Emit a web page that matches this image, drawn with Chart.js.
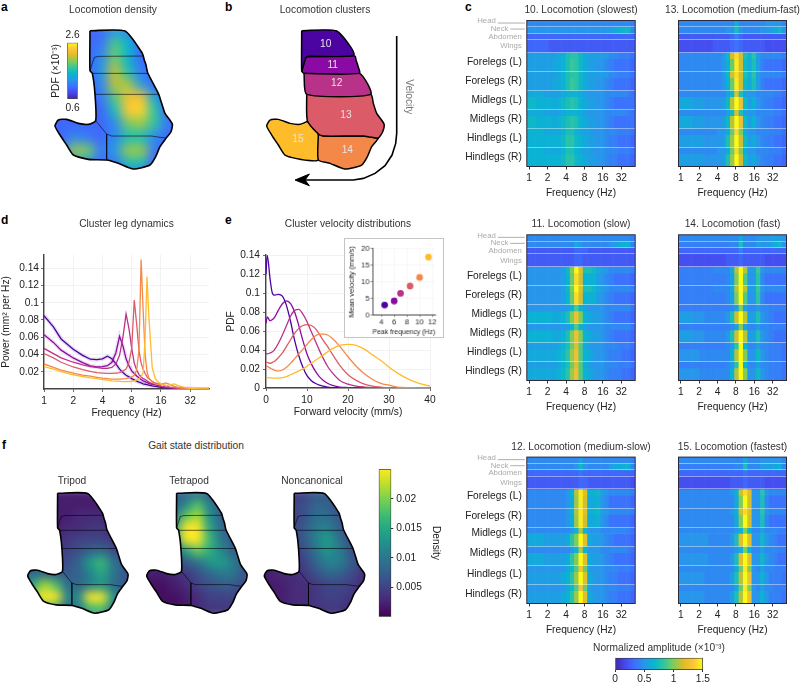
<!DOCTYPE html>
<html>

<head>
    <title>Locomotion figure</title>
    <script src="https://cdn.jsdelivr.net/npm/chart.js"></script>
    <style>
        body { margin: 0; background: #fff; width: 800px; height: 682px; overflow: hidden; position: relative; font-family: "Liberation Sans", Arial, sans-serif; }
        canvas { position: absolute; }
        .letter { position: absolute; font-weight: bold; font-size: 12px; color: #000; }
        .note { position: absolute; font-size: 10.2px; color: #333; white-space: nowrap; transform: translateX(-50%); }
    </style>
</head>

<body>
    <div class="letter" style="left:1px;top:0px">a</div>
    <div class="letter" style="left:225px;top:0px">b</div>
    <div class="letter" style="left:465px;top:0px">c</div>
    <div class="letter" style="left:1px;top:213px">d</div>
    <div class="letter" style="left:225px;top:213px">e</div>
    <div class="letter" style="left:2px;top:438px">f</div>
    <div class="note" style="left:196px;top:440px">Gait state distribution</div>

    <script>
        // ---------- data ----------
        const clusterIds = ["10", "11", "12", "13", "14", "15"];
        const clusterColors = ["#4b03a1", "#8b0aa5", "#b83289", "#db5c68", "#f48849", "#febc2b"];

        // panel d, power spectra
        const freqs = [1, 1.25, 1.5, 2, 2.5, 3, 3.5, 4, 4.5, 5, 5.5, 6, 6.5, 7, 7.5, 8, 8.5, 9, 9.5, 10, 10.5, 11, 11.5, 12, 13, 14, 15, 16, 18, 20, 22, 24, 28, 32, 40, 50];
        const freqTicks = [1, 2, 4, 8, 16, 32];
        const powerTicks = [0.02, 0.04, 0.06, 0.08, 0.1, 0.12, 0.14];
        const power10 = [.085, .072, .058, .046, .039, .0345, .034, .035, .038, .035, .029, .023, .019, .016, .014, .012, .0105, .009, .008, .007, .006, .0055, .005, .0045, .0035, .003, .0025, .002, .0015, .001, .0008, .0006, .0004, .0003, .0001, 0];
        const power11 = [.063, .054, .045, .036, .0305, .0267, .0255, .026, .027, .031, .042, .061, .05, .035, .027, .021, .018, .015, .013, .011, .0095, .0085, .0075, .0065, .0055, .005, .004, .003, .002, .0015, .001, .0008, .0005, .0003, .0001, 0];
        const power12 = [.047, .041, .036, .031, .028, .026, .025, .024, .024, .025, .029, .039, .06, .087, .07, .047, .03, .022, .017, .014, .012, .011, .0095, .008, .006, .006, .005, .003, .002, .0015, .001, .0008, .0005, .0003, .0001, 0];
        const power13 = [.041, .036, .031, .0255, .0225, .0205, .019, .0185, .018, .018, .0185, .019, .021, .023, .031, .047, .103, .075, .045, .03, .023, .018, .014, .012, .009, .007, .006, .006, .004, .002, .0015, .001, .0006, .0003, .0001, 0];
        const power14 = [.029, .025, .022, .0185, .016, .0148, .0135, .0125, .012, .0115, .0115, .0115, .0118, .012, .013, .014, .016, .022, .045, .15, .09, .04, .02, .013, .008, .006, .005, .005, .007, .005, .003, .0015, .001, .0005, .0001, 0];
        const power15 = [.026, .023, .02, .0165, .0145, .013, .012, .011, .0102, .0095, .0091, .0088, .0086, .0085, .0087, .009, .0095, .0105, .012, .014, .019, .06, .13, .085, .025, .012, .008, .006, .004, .005, .006, .004, .002, .0008, .0002, 0];

        // panel e, velocity distributions
        const velocities = [0, .3, 1, 1.5, 2, 3, 4, 5, 6, 7, 8, 9, 10, 11, 12, 13, 14, 15, 16, 18, 20, 22, 24, 26, 28, 30, 32, 34, 36, 38, 40];
        const velocityTicks = [0, 10, 20, 30, 40];
        const pdfTicks = [0, .02, .04, .06, .08, .1, .12, .14];
        const pdf10 = [.12, .14, .115, .101, .098, .099, .097, .087, .07, .05, .034, .022, .013, .008, .005, .003, .002, .001, .0005, .0002, 0, 0, 0, 0, 0, 0, 0, 0, 0, 0, 0];
        const pdf11 = [.068, .075, .071, .072, .074, .082, .089, .092, .089, .08, .066, .05, .036, .026, .018, .012, .008, .005, .003, .001, .0004, 0, 0, 0, 0, 0, 0, 0, 0, 0, 0];
        const pdf12 = [.036, .036, .037, .038, .04, .047, .056, .066, .076, .082, .083, .078, .07, .06, .05, .04, .031, .023, .017, .008, .004, .002, .001, .0004, .0002, 0, 0, 0, 0, 0, 0];
        const pdf13 = [.027, .027, .026, .027, .028, .032, .037, .044, .051, .058, .063, .066, .067, .066, .063, .057, .05, .044, .037, .024, .014, .008, .004, .002, .001, .0003, 0, 0, 0, 0, 0];
        const pdf14 = [.024, .023, .021, .02, .019, .018, .019, .022, .026, .031, .036, .041, .046, .051, .055, .057, .057, .056, .053, .044, .033, .023, .015, .009, .005, .003, .001, .0005, .0003, .0001, 0];
        const pdf15 = [.011, .011, .0108, .0105, .0105, .0105, .011, .012, .014, .016, .018, .02, .023, .026, .029, .032, .035, .038, .041, .045, .046, .045, .041, .035, .029, .022, .016, .011, .007, .004, .002];

        // panel e inset
        const peakFreq = [4.5, 6, 7, 8.5, 10, 11.4];
        const meanVelocity = [3, 4.2, 6.5, 8.7, 11.3, 17.4];
        const peakTicks = [4, 6, 8, 10, 12];
        const meanTicks = [0, 5, 10, 15, 20];

        // region borders, same space for panels a, b and f
        const outline = [[215, 92], [320, 93], [372, 160], [378, 180], [383, 195], [388, 218], [420, 280], [430, 310], [440, 340], [462, 372], [458, 395], [443, 415], [425, 440], [412, 470], [395, 495], [345, 507], [300, 490], [265, 480], [210, 478], [165, 465], [145, 435], [125, 405], [110, 378], [120, 360], [145, 358], [180, 370], [210, 373], [232, 362], [230, 283], [222, 220], [215, 212], [215, 92]];
        const region10 = [[215, 92], [320, 93], [372, 165], [240, 169], [228, 172], [222, 190], [215, 212], [215, 92]];
        const region11 = [[228, 170], [375, 168], [378, 180], [383, 195], [388, 220], [222, 220], [215, 212], [222, 190], [228, 170]];
        const region12 = [[222, 220], [388, 220], [422, 283], [230, 283], [222, 220]];
        const region13 = [[230, 283], [422, 283], [430, 310], [440, 340], [462, 372], [458, 395], [445, 414], [425, 412], [400, 408], [280, 408], [265, 402], [232, 362], [230, 283]];
        const region14 = [[265, 402], [280, 408], [400, 408], [425, 412], [445, 414], [425, 440], [412, 470], [395, 495], [345, 507], [300, 490], [265, 480], [265, 402]];
        const region15 = [[232, 364], [265, 402], [265, 480], [210, 478], [165, 465], [145, 435], [125, 405], [110, 378], [120, 360], [145, 358], [180, 370], [210, 373], [232, 364]];
        const borders = [
            [[215, 212], [222, 190], [228, 172], [240, 169], [375, 168]],
            [[222, 220], [388, 220]],
            [[230, 283], [422, 283]],
            [[232, 362], [265, 402], [280, 408], [400, 408], [425, 412], [445, 414]],
            [[265, 402], [265, 480]],
        ];
        const regions = [region10, region11, region12, region13, region14, region15];
        const regionLabelX = [287, 308, 320, 348, 352, 204];
        const regionLabelY = [132, 194, 250, 344, 451, 418];
        const velocityArrow = [[500, 108], [500, 400], [497, 430], [486, 465], [465, 497], [435, 520], [400, 535], [370, 540], [225, 540]];
        const arrowHead = [[238, 522], [195, 540], [238, 557], [225, 540], [238, 522]];

        // density grids, columns and rows in the same space
        const gridX = [90, 130, 170, 210, 250, 290, 330, 370, 410, 450, 490];
        const gridY = [90, 130, 170, 210, 250, 290, 330, 370, 410, 450, 490, 530];
        const locomotionDensity = [
            [1, 1, 1, 1, 1, 1.3, 1.2, 1, 1, 1, 1],
            [1, 1, 1, 1, 1.1, 1.8, 1.5, 1, 1, 1, 1],
            [1, 1, 1, 1, 1.2, 1.9, 1.5, 1, 1, 1, 1],
            [1, 1, 1, 1, 1.3, 2.1, 1.6, 1.1, 1, 1, 1],
            [1, 1, 1, 1, 1.2, 2.1, 2, 1.3, 1, 1, 1],
            [1, 1, 1, 1, 1.1, 1.8, 2.3, 2.3, 1.4, 1, 1],
            [1, 1, 1, 1, 1, 1.6, 2.4, 2.45, 1.7, 1, 1],
            [1, 1, 1, 1, 1, 1.2, 1.9, 2, 1.7, 1.1, 1],
            [1, 1, 1.2, 1.1, 1, 1.2, 1.6, 1.6, 1.2, 1, 1],
            [1, 1.2, 2, 1.9, 1.1, 1.3, 2, 2, 1.1, 1, 1],
            [1, 1, 1.2, 1.3, 1, 1.1, 1.6, 1.6, 1, 1, 1],
            [1, 1, 1, 1, 1, 1, 1, 1, 1, 1, 1],
        ];
        const tripodDensity = [
            [2, 2, 2, 2, 2, 2, 2, 2, 2, 2, 2],
            [2, 2, 2, 2, 2, 2, 2, 2, 2, 2, 2],
            [2, 2, 2, 2, 2, 3, 3, 3, 2, 2, 2],
            [2, 2, 2, 2, 3, 3, 4, 4, 3, 3, 3],
            [3, 3, 3, 3, 4, 5, 5, 5, 4, 3, 3],
            [3, 3, 3, 4, 5, 6, 8, 9, 6, 4, 4],
            [5, 5, 5, 5, 6, 8, 14, 17, 10, 7, 5],
            [9, 9, 9, 8, 7, 8, 11, 15, 10, 7, 5],
            [13, 15, 22, 18, 9, 8, 11, 13, 9, 7, 5],
            [13, 22, 40, 26, 11, 12, 25, 27, 14, 7, 5],
            [9, 12, 18, 15, 9, 10, 17, 18, 10, 5, 4],
            [7, 8, 8, 8, 7, 7, 8, 8, 6, 4, 4],
        ];
        const tetrapodDensity = [
            [5, 5, 6, 7, 8, 9, 7, 5, 4, 4, 4],
            [5, 5, 6, 8, 12, 18, 11, 7, 5, 4, 4],
            [6, 6, 7, 10, 19, 22, 13, 8, 5, 4, 4],
            [6, 7, 8, 15, 34, 30, 15, 9, 6, 5, 4],
            [6, 7, 8, 13, 29, 29, 17, 10, 7, 5, 5],
            [5, 6, 7, 8, 14, 19, 16, 12, 8, 6, 5],
            [4, 4, 4, 5, 7, 9, 13, 14, 11, 7, 5],
            [2, 2, 2, 3, 4, 6, 8, 10, 10, 7, 5],
            [1, 1, 1, 2, 3, 5, 6, 7, 7, 6, 4],
            [1, 1, 1, 1, 2, 3, 5, 5, 5, 4, 3],
            [1, 1, 1, 1, 2, 3, 4, 4, 4, 3, 3],
            [1, 1, 1, 1, 2, 3, 3, 3, 3, 3, 3],
        ];
        const noncanonicalDensity = [
            [4, 4, 4, 4, 5, 7, 7, 5, 4, 4, 4],
            [4, 4, 4, 5, 6, 8, 8, 6, 5, 4, 4],
            [4, 4, 4, 5, 6, 9, 9, 7, 5, 4, 4],
            [4, 4, 4, 5, 7, 10, 11, 8, 5, 4, 4],
            [4, 4, 4, 5, 7, 11, 14, 10, 6, 4, 4],
            [3, 3, 3, 4, 6, 9, 13, 11, 7, 4, 3],
            [3, 3, 3, 3, 5, 8, 11, 11, 8, 5, 3],
            [2, 2, 3, 3, 4, 6, 8, 8, 6, 4, 3],
            [2, 2, 2, 3, 3, 4, 5, 5, 5, 3, 2],
            [2, 2, 2, 3, 3, 4, 5, 5, 4, 3, 2],
            [2, 2, 2, 3, 3, 4, 4, 4, 3, 2, 2],
            [2, 2, 2, 2, 2, 3, 3, 3, 2, 2, 2],
        ];
        const densityTicks = [.005, .01, .015, .02];
        const ampTicks = [0, .5, 1, 1.5];

        // panel c spectrograms, amplitude in 1/20 units (30 = 1.5), rows:
        // head, neck, abdomen, wings, fore top, fore rest, mid top, mid rest, hind top, hind rest
        const spec10 = [
            [9, 9, 9, 9, 9, 9, 9, 9, 9, 9, 9, 9, 9, 9, 9, 9, 9, 9, 9, 9, 9, 9, 9, 9, 8],
            [10, 10, 10, 10, 10, 10, 10, 10, 10, 10, 10, 10, 10, 10, 10, 10, 10, 10, 11, 11, 12, 13, 14, 14, 9],
            [6, 6, 6, 6, 6, 6, 6, 6, 6, 6, 6, 6, 6, 6, 6, 6, 6, 6, 6, 6, 6, 6, 6, 6, 6],
            [6, 6, 6, 6, 6, 5, 5, 5, 5, 5, 5, 5, 5, 5, 5, 5, 5, 5, 5, 5, 5, 5, 5, 5, 5],
            [11, 11, 11, 11, 11, 11, 11, 12, 13, 15, 16, 16, 14, 12, 11, 11, 11, 11, 10, 9, 9, 8, 8, 8, 7],
            [11, 11, 11, 11, 11, 11, 12, 12, 13, 15, 17, 16, 14, 12, 11, 11, 10, 10, 9, 8, 7, 7, 7, 7, 6],
            [12, 12, 12, 12, 11, 11, 11, 11, 12, 13, 13, 13, 12, 11, 10, 10, 10, 10, 9, 9, 9, 9, 9, 8, 7],
            [14, 14, 13, 13, 13, 13, 12, 13, 14, 15, 16, 15, 13, 12, 11, 11, 10, 10, 9, 8, 7, 7, 7, 7, 7],
            [13, 13, 13, 13, 12, 12, 12, 12, 13, 15, 15, 13, 12, 11, 11, 10, 10, 10, 9, 9, 9, 8, 8, 8, 7],
            [13, 13, 13, 13, 13, 13, 13, 13, 14, 16, 16, 14, 13, 12, 11, 11, 10, 10, 9, 8, 8, 7, 7, 7, 6],
        ];
        const spec11 = [
            [9, 9, 9, 9, 9, 9, 9, 9, 9, 9, 9, 9, 9, 9, 9, 9, 9, 9, 9, 9, 9, 9, 9, 9, 8],
            [9, 9, 9, 9, 9, 9, 9, 9, 9, 9, 9, 12, 10, 9, 9, 9, 9, 9, 9, 10, 11, 12, 13, 13, 8],
            [5, 5, 5, 5, 5, 5, 5, 5, 5, 5, 5, 6, 6, 6, 5, 5, 5, 5, 5, 5, 5, 5, 5, 5, 5],
            [5, 5, 5, 5, 5, 5, 5, 5, 5, 5, 5, 6, 6, 5, 5, 5, 5, 5, 5, 5, 5, 5, 5, 5, 5],
            [10, 10, 10, 10, 10, 10, 10, 10, 11, 14, 20, 30, 24, 15, 15, 14, 12, 11, 10, 9, 9, 9, 9, 9, 8],
            [10, 10, 10, 10, 10, 10, 10, 10, 11, 13, 19, 28, 23, 13, 13, 13, 11, 10, 9, 8, 7, 7, 7, 7, 6],
            [10, 10, 10, 10, 10, 10, 10, 10, 10, 11, 13, 18, 13, 11, 10, 10, 10, 10, 9, 9, 9, 9, 9, 9, 7],
            [13, 13, 13, 13, 13, 13, 12, 12, 13, 15, 20, 25, 20, 13, 12, 11, 11, 10, 9, 8, 7, 7, 7, 7, 6],
            [11, 11, 11, 11, 11, 11, 11, 12, 13, 15, 19, 24, 18, 12, 11, 10, 10, 10, 9, 9, 9, 8, 8, 8, 7],
            [12, 12, 12, 12, 12, 12, 12, 13, 14, 16, 21, 25, 18, 13, 12, 11, 10, 10, 9, 8, 8, 8, 7, 7, 6],
        ];
        const spec12 = [
            [9, 9, 9, 9, 9, 9, 9, 9, 9, 9, 9, 9, 11, 9, 9, 9, 9, 9, 9, 9, 9, 9, 9, 9, 8],
            [9, 9, 9, 9, 9, 9, 9, 9, 9, 9, 9, 10, 14, 10, 9, 9, 9, 9, 9, 11, 12, 12, 13, 13, 9],
            [6, 6, 6, 6, 6, 6, 6, 6, 6, 6, 6, 6, 7, 6, 6, 6, 6, 6, 6, 6, 6, 6, 6, 6, 6],
            [5, 5, 5, 5, 5, 5, 5, 5, 5, 5, 5, 5, 6, 6, 5, 5, 5, 5, 5, 5, 5, 5, 5, 5, 4],
            [9, 9, 9, 9, 9, 9, 9, 9, 9, 10, 13, 22, 29, 24, 13, 13, 14, 11, 10, 9, 9, 9, 9, 9, 8],
            [9, 9, 9, 9, 9, 9, 9, 9, 9, 10, 12, 21, 29, 23, 12, 12, 13, 10, 9, 7, 7, 7, 7, 7, 6],
            [9, 9, 9, 9, 9, 9, 9, 9, 9, 9, 10, 13, 22, 13, 10, 10, 10, 9, 9, 9, 9, 9, 9, 8, 7],
            [12, 12, 12, 12, 11, 11, 11, 11, 11, 12, 16, 20, 30, 24, 12, 11, 11, 10, 9, 8, 7, 7, 7, 7, 6],
            [10, 10, 10, 10, 10, 10, 10, 10, 10, 12, 14, 18, 26, 19, 11, 10, 10, 10, 9, 9, 9, 8, 8, 8, 7],
            [11, 11, 11, 11, 11, 11, 11, 11, 12, 13, 16, 21, 30, 24, 12, 11, 10, 10, 9, 8, 8, 7, 7, 7, 6],
        ];
        const spec13 = [
            [9, 9, 9, 9, 9, 9, 9, 9, 9, 9, 9, 9, 9, 13, 9, 9, 9, 9, 9, 9, 10, 10, 10, 10, 9],
            [9, 9, 9, 9, 9, 9, 9, 9, 9, 9, 9, 10, 10, 15, 10, 9, 9, 9, 9, 10, 10, 11, 12, 14, 10],
            [5, 5, 5, 5, 5, 5, 5, 5, 5, 5, 5, 5, 6, 8, 6, 5, 5, 5, 5, 5, 5, 5, 5, 5, 5],
            [4, 4, 4, 4, 4, 4, 4, 4, 5, 5, 5, 5, 6, 7, 6, 5, 5, 5, 5, 5, 4, 4, 4, 4, 4],
            [9, 9, 9, 9, 9, 9, 9, 9, 9, 9, 10, 14, 23, 28, 23, 15, 13, 16, 11, 9, 9, 9, 9, 9, 8],
            [9, 9, 9, 9, 9, 9, 9, 9, 9, 9, 10, 13, 19, 29, 23, 14, 12, 15, 11, 8, 7, 7, 7, 7, 6],
            [9, 9, 9, 9, 9, 9, 9, 9, 9, 9, 9, 11, 14, 24, 15, 11, 10, 10, 9, 9, 9, 9, 8, 8, 7],
            [12, 12, 12, 11, 11, 11, 10, 10, 10, 10, 11, 14, 22, 30, 25, 14, 11, 13, 10, 9, 8, 8, 7, 7, 6],
            [9, 9, 9, 9, 9, 9, 9, 9, 9, 10, 10, 12, 19, 28, 20, 12, 10, 10, 9, 9, 9, 8, 8, 8, 7],
            [11, 11, 11, 11, 11, 11, 10, 10, 10, 10, 11, 15, 21, 30, 23, 14, 11, 12, 10, 9, 8, 8, 7, 7, 6],
        ];
        const spec14 = [
            [9, 9, 9, 9, 9, 9, 9, 9, 9, 9, 9, 9, 9, 9, 12, 9, 9, 9, 10, 10, 10, 11, 11, 11, 10],
            [8, 8, 8, 8, 8, 8, 8, 8, 8, 8, 8, 8, 9, 9, 15, 9, 9, 9, 11, 10, 10, 11, 13, 14, 10],
            [6, 6, 6, 6, 6, 6, 6, 6, 6, 6, 6, 6, 6, 6, 8, 6, 6, 6, 6, 6, 6, 6, 6, 6, 6],
            [4, 4, 4, 4, 4, 4, 4, 4, 4, 4, 4, 5, 5, 5, 6, 5, 5, 5, 5, 5, 4, 4, 4, 4, 4],
            [8, 8, 8, 8, 8, 8, 8, 8, 9, 9, 9, 9, 12, 22, 30, 22, 11, 11, 17, 10, 9, 9, 9, 9, 9],
            [8, 8, 8, 8, 8, 8, 8, 8, 8, 8, 8, 9, 11, 20, 30, 18, 10, 10, 16, 9, 7, 7, 7, 7, 7],
            [8, 8, 8, 8, 8, 8, 8, 8, 8, 8, 8, 8, 9, 11, 20, 11, 9, 9, 10, 9, 9, 8, 8, 8, 8],
            [11, 11, 11, 10, 10, 10, 9, 9, 9, 9, 9, 10, 15, 23, 30, 22, 11, 11, 15, 10, 9, 8, 7, 7, 7],
            [8, 8, 8, 8, 8, 8, 8, 8, 8, 8, 8, 9, 10, 16, 30, 13, 9, 9, 11, 9, 9, 8, 8, 8, 7],
            [10, 10, 10, 10, 10, 9, 9, 9, 9, 9, 9, 9, 13, 22, 30, 20, 10, 10, 14, 10, 9, 8, 8, 8, 7],
        ];
        const spec15 = [
            [9, 9, 9, 9, 9, 9, 9, 9, 9, 9, 9, 9, 9, 9, 9, 12, 9, 9, 9, 10, 10, 10, 10, 10, 9],
            [8, 8, 8, 8, 8, 8, 8, 8, 8, 8, 8, 8, 8, 9, 9, 15, 9, 9, 9, 11, 11, 11, 12, 13, 9],
            [6, 6, 6, 6, 6, 6, 6, 6, 6, 6, 6, 6, 6, 6, 6, 7, 6, 6, 6, 6, 6, 6, 6, 6, 6],
            [4, 4, 4, 4, 4, 4, 4, 4, 4, 4, 4, 4, 5, 5, 5, 6, 5, 5, 5, 5, 4, 4, 4, 4, 4],
            [9, 9, 9, 9, 9, 9, 9, 9, 9, 9, 9, 9, 10, 13, 23, 28, 24, 10, 10, 16, 10, 9, 9, 9, 9],
            [9, 9, 9, 9, 9, 9, 9, 9, 9, 9, 9, 9, 9, 12, 20, 30, 23, 10, 10, 15, 9, 7, 7, 7, 7],
            [9, 9, 9, 9, 9, 9, 9, 9, 9, 9, 9, 9, 9, 10, 13, 20, 13, 9, 9, 11, 9, 9, 9, 8, 8],
            [10, 10, 10, 10, 10, 10, 10, 9, 9, 9, 9, 9, 10, 15, 24, 30, 24, 10, 10, 14, 10, 9, 8, 7, 7],
            [9, 9, 9, 9, 9, 9, 9, 9, 9, 9, 9, 9, 9, 12, 19, 29, 20, 10, 9, 11, 9, 9, 8, 8, 8],
            [10, 10, 10, 10, 10, 10, 9, 9, 9, 9, 9, 9, 11, 15, 22, 30, 25, 10, 10, 13, 10, 8, 8, 8, 7],
        ];
        const octaveTicks = [0, 1, 2, 3, 4, 5];
        const octaveLabels = ["1", "2", "4", "8", "16", "32"];
        const bodyParts = ["Head", "Neck", "Abdomen", "Wings"];
        const legNames = ["Forelegs (L)", "Forelegs (R)", "Midlegs (L)", "Midlegs (R)", "Hindlegs (L)", "Hindlegs (R)"];

        // ---------- shared bits ----------
        const PARULA = [[62, 38, 168], [71, 71, 235], [62, 111, 255], [39, 150, 235], [8, 181, 208], [49, 198, 159], [129, 204, 89], [220, 189, 41], [254, 196, 56], [249, 251, 21]];
        const VIRIDIS = [[68, 1, 84], [72, 40, 120], [62, 74, 137], [49, 104, 142], [38, 130, 142], [31, 158, 137], [53, 183, 121], [109, 205, 89], [180, 222, 44], [253, 231, 37]];

        function cmap(stops, t) {
            t = Math.min(1, Math.max(0, t)) * (stops.length - 1);
            const i = Math.min(stops.length - 2, Math.floor(t)), f = t - i;
            const c = stops[i].map((v, k) => Math.round(v + (stops[i + 1][k] - v) * f));
            return `rgb(${c[0]},${c[1]},${c[2]})`;
        }

        function gradientFill(stops, vertical) {
            return (ctx) => {
                const a = ctx.chart.chartArea;
                if (!a) return "#888";
                const g = vertical ? ctx.chart.ctx.createLinearGradient(0, a.bottom, 0, a.top)
                    : ctx.chart.ctx.createLinearGradient(a.left, 0, a.right, 0);
                stops.forEach((s, i) => g.addColorStop(i / (stops.length - 1), `rgb(${s[0]},${s[1]},${s[2]})`));
                return g;
            };
        }

        Chart.defaults.font.family = '"Liberation Sans", Arial, sans-serif';
        Chart.defaults.font.size = 10.2;
        Chart.defaults.color = "#222";
        Chart.defaults.animation = false;
        Chart.defaults.responsive = false;
        Chart.defaults.plugins.legend.display = false;
        Chart.defaults.plugins.tooltip.enabled = false;

        // canvas placed on the page so that the plot area lands where the figure has it
        function addCanvas(x, y, w, h) {
            const c = document.createElement("canvas");
            c.width = w; c.height = h;
            c.style.left = x + "px"; c.style.top = y + "px";
            document.body.appendChild(c);
            return c;
        }

        function titleOption(text, titleTop, plotTop) {
            return {
                display: true, text, color: "#333",
                font: { size: 10.2, weight: "normal" },
                padding: { top: 0, bottom: plotTop - titleTop - 10.2 * 1.2 },
            };
        }

        const fixWidth = (w) => (s) => { s.width = w; };
        const fixHeight = (h) => (s) => { s.height = h; };
        const setTicks = (vals) => (s) => { s.ticks = vals.map((v) => ({ value: v })); };
        const toXY = (pts) => pts.map(([x, y]) => ({ x, y }));
        const lineSet = (pts, color, width, extra) => Object.assign({
            type: "scatter", showLine: true, data: toXY(pts), borderColor: color, borderWidth: width,
            pointRadius: 0, tension: 0.2, order: 0,
        }, extra);
        // empty axis that only reserves room beside the plot, the title still spans the whole canvas
        const spacer = (position, w) => ({
            type: "linear", position, border: { display: false },
            grid: { display: false, drawTicks: false }, ticks: { display: false }, afterFit: fixWidth(w),
        });

        // blur the drawn cells and cut them to the region outline
        const blurCells = {
            id: "blurCells",
            beforeDatasetsDraw(c) { c.$drawn = 0; },
            afterDatasetDraw(c, args, opts) {
                if (c.data.datasets[args.index].type !== "bar") return;
                if (++c.$drawn < gridY.length) return;
                const a = c.chartArea, w = a.right - a.left, h = a.bottom - a.top;
                const tmp = document.createElement("canvas");
                tmp.width = c.canvas.width; tmp.height = c.canvas.height;
                tmp.getContext("2d").drawImage(c.canvas, a.left, a.top, w, h, a.left, a.top, w, h);
                const ctx = c.ctx;
                ctx.save();
                ctx.beginPath(); ctx.rect(a.left, a.top, w, h); ctx.clip();
                ctx.clearRect(a.left, a.top, w, h);
                ctx.filter = `blur(${opts.radius}px)`;
                ctx.drawImage(tmp, 0, 0);
                ctx.filter = "none";
                ctx.globalCompositeOperation = "destination-in";
                const line = c.getDatasetMeta(0).dataset;
                line.updateControlPoints(a, "x");
                ctx.beginPath();
                line.path(ctx);
                ctx.closePath();
                ctx.fillStyle = "#000";
                ctx.fill();
                ctx.restore();
            },
        };

        // map axes: u,v space to page pixels
        function mapAxes(m) {
            const xMin = 110 + (m.cx - m.w / 2 - m.shapeLeft) / m.sx;
            const yMin = 92 + (m.plotTop - m.shapeTop) / m.sy;
            return {
                x: { type: "linear", display: false, offset: false, min: xMin, max: xMin + m.w / m.sx, grid: { offset: false } },
                y: { type: "linear", display: false, reverse: true, min: yMin, max: yMin + m.plotH / m.sy },
            };
        }

        function densityMap(m, grid, stops, lo, hi) {
            const cv = addCanvas(m.cx - m.w / 2, m.titleTop, m.w, m.plotTop - m.titleTop + m.plotH);
            const datasets = [lineSet(outline, "#000", 1.6)];
            borders.forEach((b) => datasets.push(lineSet(b, "rgba(0,0,0,.65)", 0.9, { tension: 0 })));
            gridY.forEach((v, r) => datasets.push({
                type: "bar", grouped: false, order: 1, barPercentage: 1, categoryPercentage: 1,
                data: grid[r].map(() => [v - 20, v + 20]),
                backgroundColor: grid[r].map((d) => cmap(stops, (d - lo) / (hi - lo))),
            }));
            new Chart(cv, {
                type: "bar",
                data: { labels: gridX, datasets },
                options: {
                    scales: mapAxes(m),
                    plugins: { title: titleOption(m.title, m.titleTop, m.plotTop), blurCells: { radius: m.blur } },
                },
                plugins: [blurCells],
            });
        }

        // ---------- panel a ----------
        densityMap({ title: "Locomotion density", cx: 113, w: 156, titleTop: 4, plotTop: 20, plotH: 176, shapeLeft: 55, shapeTop: 30.7, sx: 1 / 3, sy: 1 / 3, blur: 5.5 },
            locomotionDensity, PARULA, 0.6, 2.6);

        const noTicks = { display: false, drawTicks: false };
        new Chart(addCanvas(50, 30, 40, 84), {
            type: "bar",
            data: { labels: [""], datasets: [{ data: [[0.6, 2.6]], backgroundColor: gradientFill(PARULA, true), borderColor: "#444", borderWidth: 1, borderSkipped: false, barPercentage: 1, categoryPercentage: 1 }] },
            options: {
                layout: { padding: { right: 12.3 } },
                scales: {
                    x: { position: "bottom", labels: ["0.6"], offset: true, border: { display: false }, grid: noTicks, ticks: { padding: 3 }, afterFit: fixHeight(15) },
                    xTop: { type: "category", position: "top", labels: ["2.6"], offset: true, border: { display: false }, grid: noTicks, ticks: { padding: 1 }, afterFit: fixHeight(12.7) },
                    y: { min: 0.6, max: 2.6, border: { display: false }, grid: noTicks, ticks: { display: false }, title: { display: true, text: "PDF (×10⁻³)", padding: 0, font: { size: 10.2 } }, afterFit: fixWidth(17.3) },
                },
            },
        });

        // ---------- panel b ----------
        const regionLabels = {
            id: "regionLabels",
            afterDatasetsDraw(c) {
                const ctx = c.ctx, sx = c.scales.x, sy = c.scales.y;
                ctx.save();
                ctx.font = '10.2px "Liberation Sans"';
                ctx.textAlign = "center"; ctx.textBaseline = "middle";
                ctx.fillStyle = "#e4e4e4";
                clusterIds.forEach((t, i) => ctx.fillText(t, sx.getPixelForValue(regionLabelX[i]), sy.getPixelForValue(regionLabelY[i])));
                ctx.translate(sx.getPixelForValue(535), sy.getPixelForValue(290));
                ctx.rotate(Math.PI / 2);
                ctx.fillStyle = "#777";
                ctx.fillText("Velocity", 0, 0);
                ctx.restore();
            },
        };
        const mapB = { cx: 325, w: 184, titleTop: 4, plotTop: 20, plotH: 176, shapeLeft: 266.7, shapeTop: 30.7, sx: 1 / 3, sy: 1 / 3 };
        new Chart(addCanvas(mapB.cx - mapB.w / 2, mapB.titleTop, mapB.w, mapB.plotTop - mapB.titleTop + mapB.plotH), {
            type: "scatter",
            data: {
                datasets: [
                    lineSet(velocityArrow, "#000", 1.6, { tension: 0 }),
                    lineSet(arrowHead, "#000", 1, { tension: 0, fill: "shape", backgroundColor: "#000" }),
                ].concat(regions.map((r, i) => lineSet(r, "#000", 1.5, { fill: "shape", backgroundColor: clusterColors[i] }))),
            },
            options: { scales: mapAxes(mapB), plugins: { title: titleOption("Locomotion clusters", mapB.titleTop, mapB.plotTop) } },
            plugins: [regionLabels],
        });

        // ---------- panel c ----------
        const rowSpans = [[0, 1], [1, 2], [2, 3], [3, 5], [5, 6], [6, 8], [8, 9], [9, 11], [11, 12], [12, 14], [14, 15], [15, 17], [17, 18], [18, 20], [20, 21], [21, 23]];
        const rowSource = [0, 1, 2, 3, 4, 5, 4, 5, 6, 7, 6, 7, 8, 9, 8, 9];
        const separators = [1, 2, 3, 5, 8, 11, 14, 17, 20];
        const binOctave = spec10[0].map((_, i) => -0.126 + 0.235 * (i + 0.5));
        const bodyY = [0.1, 1.3, 2.5, 4.05];
        const bodyShift = [31, 18.3, 5, 5];

        const bodyLabels = {
            id: "bodyLabels",
            afterDraw(c) {
                const ctx = c.ctx, sy = c.scales.y, left = c.chartArea.left;
                ctx.save();
                ctx.font = '7.8px "Liberation Sans"';
                ctx.textAlign = "right"; ctx.textBaseline = "middle";
                ctx.fillStyle = "#aaa";
                bodyParts.forEach((t, i) => ctx.fillText(t, left - bodyShift[i], sy.getPixelForValue(bodyY[i])));
                ctx.strokeStyle = "#999"; ctx.lineWidth = 0.8;
                [[left - 29, 0.4], [left - 16.5, 1.35]].forEach(([x0, r]) => {
                    ctx.beginPath();
                    ctx.moveTo(x0, sy.getPixelForValue(r));
                    ctx.lineTo(left - 2, sy.getPixelForValue(r));
                    ctx.stroke();
                });
                ctx.restore();
            },
        };
        const frame = {
            id: "frame",
            afterDraw(c) {
                const a = c.chartArea, ctx = c.ctx;
                ctx.save();
                ctx.strokeStyle = "#2a2a3a"; ctx.lineWidth = 1;
                ctx.strokeRect(a.left, a.top, a.right - a.left, a.bottom - a.top);
                ctx.restore();
            },
        };

        function spectrogram(title, spec, left, top, bottom, showLabels, legY, titleCenter) {
            const right = left + 108.5;
            // canvas is kept symmetric round the plot so that the title centres on it
            const canvasLeft = showLabels ? 460 : 664.5;
            const canvasRight = right + (left - canvasLeft);
            const titleTop = titleCenter - 6.1;
            const xTitleH = 32.5;
            const datasets = rowSpans.map((span, r) => ({
                grouped: false, barPercentage: 1, categoryPercentage: 1,
                data: spec[rowSource[r]].map(() => span),
                backgroundColor: spec[rowSource[r]].map((d) => cmap(PARULA, d / 30)),
            }));
            new Chart(addCanvas(canvasLeft, titleTop, canvasRight - canvasLeft, bottom + xTitleH - titleTop), {
                type: "bar",
                data: { labels: binOctave, datasets },
                options: {
                    scales: {
                        x: {
                            type: "linear", offset: false, min: -0.126, max: 5.75,
                            afterBuildTicks: setTicks(octaveTicks),
                            grid: { offset: false, drawOnChartArea: false, tickLength: 3, tickColor: "#333" },
                            border: { display: false },
                            ticks: { autoSkip: false, maxRotation: 0, padding: 3, callback: (v, i) => octaveLabels[i] },
                            title: { display: true, text: "Frequency (Hz)", padding: 0, font: { size: 10.2 } },
                            afterFit: fixHeight(xTitleH),
                        },
                        y: {
                            type: "linear", reverse: true, min: 0, max: 23,
                            afterBuildTicks: setTicks(legY),
                            grid: { display: false, drawTicks: false },
                            border: { display: false },
                            ticks: { display: showLabels, autoSkip: false, padding: 5, callback: (v, i) => legNames[i] },
                            afterFit: fixWidth(left - canvasLeft),
                        },
                        seps: {
                            type: "linear", position: "left", reverse: true, min: 0, max: 23,
                            afterBuildTicks: setTicks(separators),
                            grid: { z: 1, color: "rgba(255,255,255,.42)", lineWidth: 1, drawTicks: false },
                            border: { display: false },
                            ticks: { display: false },
                            afterFit: fixWidth(0),
                        },
                        padRight: spacer("right", canvasRight - right),
                    },
                    plugins: { title: titleOption(title, titleTop, top) },
                },
                plugins: showLabels ? [frame, bodyLabels] : [frame],
            });
        }

        const legY1 = [6.6, 9.6, 12.6, 15.6, 18.6, 21.6];
        const legY3 = [6.15, 9.35, 12, 15.15, 18.4, 21.5];
        spectrogram("10. Locomotion (slowest)", spec10, 526.8, 20.7, 166.7, true, legY1, 10.3);
        spectrogram("13. Locomotion (medium-fast)", spec13, 678, 20.7, 166.7, false, legY1, 10.3);
        spectrogram("11. Locomotion (slow)", spec11, 526.8, 235, 381.3, true, legY1, 224.3);
        spectrogram("14. Locomotion (fast)", spec14, 678, 235, 381.3, false, legY1, 224.3);
        spectrogram("12. Locomotion (medium-slow)", spec12, 526.8, 456.7, 603.3, true, legY3, 446.7);
        spectrogram("15. Locomotion (fastest)", spec15, 678, 456.7, 603.3, false, legY3, 446.7);

        // amplitude colour bar
        new Chart(addCanvas(590, 642, 138.4, 40), {
            type: "bar",
            data: { labels: [""], datasets: [{ data: [[0, 1.5]], backgroundColor: gradientFill(PARULA, false), borderColor: "#333", borderWidth: 1, borderSkipped: false, barPercentage: 1, categoryPercentage: 1 }] },
            options: {
                indexAxis: "y",
                scales: {
                    x: { min: 0, max: 1.5, afterBuildTicks: setTicks(ampTicks), border: { display: false }, grid: { drawOnChartArea: false, tickLength: 2, tickColor: "#333" }, ticks: { autoSkip: false, maxRotation: 0, padding: 1, callback: (v, i) => String(ampTicks[i]) }, afterFit: fixHeight(12) },
                    y: { display: false },
                    padLeft: spacer("left", 25),
                    padRight: spacer("right", 25.1),
                },
                plugins: { title: titleOption("Normalized amplitude (×10⁻³)", 642.5, 658.3) },
            },
        });

        // ---------- panel d ----------
        const powerSeries = [power10, power11, power12, power13, power14, power15];
        const lightGrid = { color: "#efefef", lineWidth: 0.8, tickLength: 3, tickColor: "#444" };
        const spine = { color: "#444", width: 1.4 };
        new Chart(addCanvas(0, 218.2, 253, 201.1), {
            type: "line",
            data: {
                labels: freqs,
                datasets: powerSeries.map((s, i) => ({ data: s, borderColor: clusterColors[i], borderWidth: 1.3, pointRadius: 0, tension: 0, order: 6 - i }))
                    .concat([power10, power11].map((s, i) => ({ data: s, borderColor: clusterColors[i] + "22", borderWidth: 4, pointRadius: 0, tension: 0, order: 7 }))),
            },
            options: {
                scales: {
                    x: {
                        type: "logarithmic", min: 1, max: 50,
                        afterBuildTicks: setTicks(freqTicks),
                        grid: lightGrid, border: spine,
                        ticks: { autoSkip: false, maxRotation: 0, padding: 3, callback: (v) => String(v) },
                        title: { display: true, text: "Frequency (Hz)", padding: 0, font: { size: 10.2 } },
                        afterFit: fixHeight(30),
                    },
                    y: {
                        min: 0, max: 0.1555,
                        afterBuildTicks: setTicks(powerTicks),
                        grid: lightGrid, border: spine,
                        ticks: { autoSkip: false, padding: 2, callback: (v) => String(v) },
                        title: { display: true, text: "Power (mm² per Hz)", padding: 0, font: { size: 10.2 } },
                        afterFit: fixWidth(44),
                    },
                    padRight: spacer("right", 44),
                },
                plugins: { title: titleOption("Cluster leg dynamics", 218.2, 255) },
            },
        });

        // ---------- panel e ----------
        const pdfSeries = [pdf10, pdf11, pdf12, pdf13, pdf14, pdf15];
        new Chart(addCanvas(225, 218.2, 246.3, 200.1), {
            type: "line",
            data: {
                labels: velocities,
                datasets: pdfSeries.map((s, i) => ({ data: s, borderColor: clusterColors[i], borderWidth: 1.3, pointRadius: 0, cubicInterpolationMode: "monotone", order: 6 - i })),
            },
            options: {
                scales: {
                    x: {
                        type: "linear", min: 0, max: 40,
                        afterBuildTicks: setTicks(velocityTicks),
                        grid: lightGrid, border: spine,
                        ticks: { autoSkip: false, maxRotation: 0, padding: 3, callback: (v) => String(v) },
                        title: { display: true, text: "Forward velocity (mm/s)", padding: 0, font: { size: 10.2 } },
                        afterFit: fixHeight(30),
                    },
                    y: {
                        min: 0, max: 0.1407,
                        afterBuildTicks: setTicks(pdfTicks),
                        grid: lightGrid, border: spine,
                        ticks: { autoSkip: false, padding: 3, callback: (v) => String(v) },
                        title: { display: true, text: "PDF", padding: 0, font: { size: 10.2 } },
                        afterFit: fixWidth(41),
                    },
                    padRight: spacer("right", 41),
                },
                plugins: { title: titleOption("Cluster velocity distributions", 218.2, 255) },
            },
        });

        // inset
        const inset = addCanvas(344, 238, 100, 100);
        inset.style.border = "1px solid #c4c4c4";
        inset.style.background = "#fff";
        const insetGrid = { color: "#f2f2f2", lineWidth: 0.6, tickLength: 2, tickColor: "#444" };
        new Chart(inset, {
            type: "scatter",
            data: { datasets: [{ data: peakFreq.map((x, i) => ({ x, y: meanVelocity[i] })), pointRadius: 3.4, pointBackgroundColor: clusterColors, pointBorderWidth: 0 }] },
            options: {
                layout: { padding: { top: 9.7, right: 8 } },
                scales: {
                    x: {
                        min: 2.58, max: 12.45,
                        afterBuildTicks: setTicks(peakTicks),
                        grid: insetGrid, border: { color: "#444", width: 1 },
                        ticks: { autoSkip: false, maxRotation: 0, padding: 1, font: { size: 7.7 }, callback: (v) => String(v) },
                        title: { display: true, text: "Peak frequency (Hz)", padding: 0, font: { size: 7.7 } },
                        afterFit: fixHeight(22.5),
                    },
                    y: {
                        min: 0, max: 20,
                        afterBuildTicks: setTicks(meanTicks),
                        grid: insetGrid, border: { color: "#444", width: 1 },
                        ticks: { autoSkip: false, padding: 1, font: { size: 7.7 }, callback: (v) => String(v) },
                        title: { display: true, text: "Mean velocity (mm/s)", padding: 2, font: { size: 7.7 } },
                        afterFit: fixWidth(28),
                    },
                },
            },
        });

        // ---------- panel f ----------
        const gait = { w: 130, titleTop: 475, plotTop: 488, plotH: 130, shapeTop: 493.3, sx: 0.285, sy: 0.289, blur: 5 };
        densityMap(Object.assign({}, gait, { title: "Tripod", cx: 72, shapeLeft: 27.7 }), tripodDensity, VIRIDIS, 0, 25);
        densityMap(Object.assign({}, gait, { title: "Tetrapod", cx: 189, shapeLeft: 146.7 }), tetrapodDensity, VIRIDIS, 0, 25);
        densityMap(Object.assign({}, gait, { title: "Noncanonical", cx: 312, shapeLeft: 264.3 }), noncanonicalDensity, VIRIDIS, 0, 25);

        new Chart(addCanvas(372, 460, 70, 166), {
            type: "bar",
            data: { labels: [""], datasets: [{ data: [[0, 0.025]], backgroundColor: gradientFill(VIRIDIS, true), borderColor: "#333", borderWidth: 1, borderSkipped: false, barPercentage: 1, categoryPercentage: 1 }] },
            options: {
                layout: { padding: { left: 6.7, top: 9.3, bottom: 9.3 } },
                scales: {
                    x: { display: false },
                    y: {
                        position: "right", min: 0, max: 0.025,
                        afterBuildTicks: setTicks(densityTicks),
                        border: { display: false },
                        grid: { drawOnChartArea: false, tickLength: 2, tickColor: "#333" },
                        ticks: { autoSkip: false, padding: 3, callback: (v, i) => String(densityTicks[i]) },
                        title: { display: true, text: "Density", padding: 0, font: { size: 10.2 } },
                        afterFit: fixWidth(50.7),
                    },
                },
            },
        });
    </script>
</body>

</html>
